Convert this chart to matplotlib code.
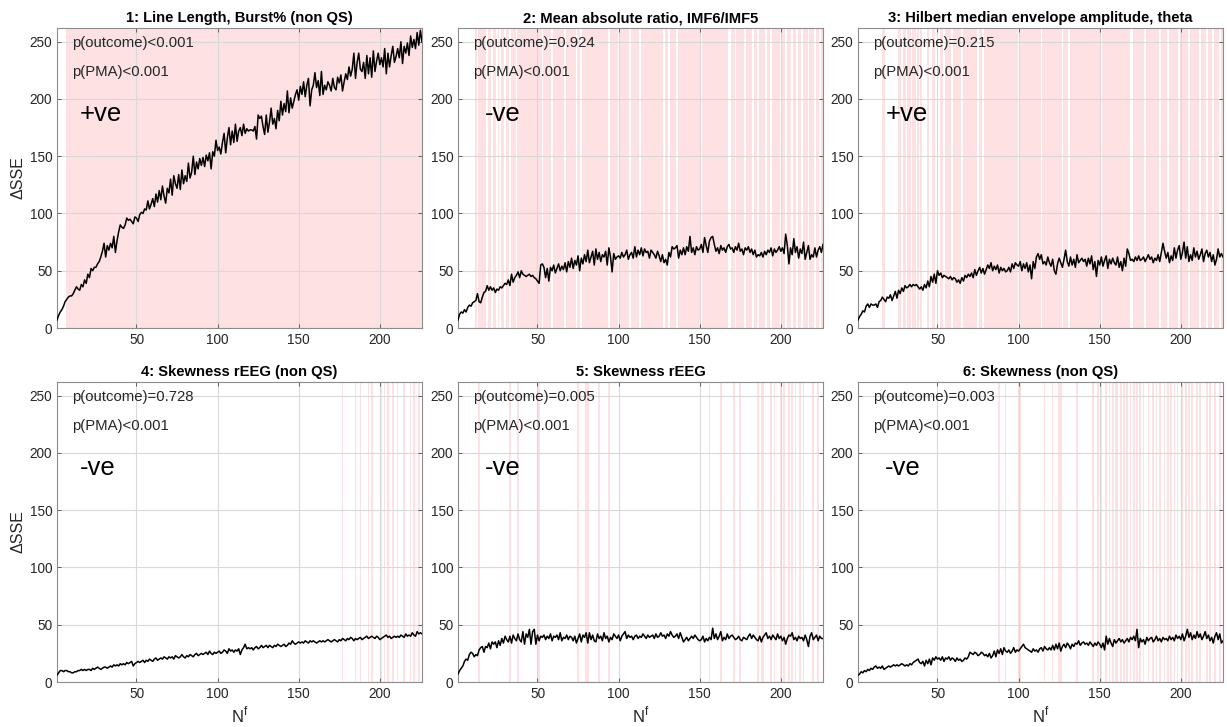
import matplotlib
matplotlib.use('Agg')
import matplotlib.pyplot as plt
import numpy as np

plt.rcParams['font.family'] = ['Liberation Sans', 'DejaVu Sans']

TITLES = [
    '1: Line Length, Burst% (non QS)',
    '2: Mean absolute ratio, IMF6/IMF5',
    '3: Hilbert median envelope amplitude, theta',
    '4: Skewness rEEG (non QS)',
    '5: Skewness rEEG',
    '6: Skewness (non QS)',
]
P_OUTCOME = ['p(outcome)<0.001', 'p(outcome)=0.924', 'p(outcome)=0.215',
             'p(outcome)=0.728', 'p(outcome)=0.005', 'p(outcome)=0.003']
P_PMA = ['p(PMA)<0.001'] * 6
SIGN = ['+ve', '-ve', '+ve', '-ve', '-ve', '-ve']

N_F = np.arange(1, 227)

dsse_1 = [
    7, 11, 14, 16, 19, 23, 25, 27, 28, 28,
    30, 33, 36, 34, 33, 38, 36, 42, 39, 47,
    44, 52, 50, 53, 53, 56, 58, 62, 67, 74,
    62, 72, 68, 74, 70, 80, 66, 76, 84, 90,
    88, 87, 90, 96, 94, 95, 93, 91, 97, 96,
    93, 99, 101, 100, 104, 103, 111, 104, 108, 113,
    106, 117, 110, 120, 112, 124, 115, 109, 122, 118,
    130, 116, 133, 126, 122, 134, 121, 138, 126, 133,
    128, 144, 131, 136, 150, 134, 145, 139, 148, 142,
    149, 141, 151, 146, 153, 139, 154, 150, 164, 155,
    158, 152, 162, 170, 153, 166, 175, 160, 172, 162,
    178, 163, 172, 175, 168, 178, 170, 174, 172, 173,
    173, 172, 176, 165, 186, 183, 185, 176, 169, 186,
    171, 180, 192, 178, 183, 174, 190, 181, 198, 186,
    196, 189, 207, 188, 201, 192, 198, 204, 208, 199,
    211, 204, 215, 202, 212, 218, 194, 208, 212, 223,
    210, 216, 203, 224, 204, 212, 208, 215, 212, 207,
    218, 210, 208, 219, 214, 221, 207, 215, 222, 217,
    228, 220, 226, 240, 218, 232, 240, 226, 224, 232,
    218, 238, 222, 236, 219, 242, 224, 233, 240, 230,
    236, 228, 244, 222, 240, 228, 238, 246, 232, 237,
    244, 236, 250, 231, 246, 240, 249, 238, 255, 245,
    252, 244, 258, 247, 260, 250,
]

dsse_2 = [
    7, 12, 14, 13, 16, 14, 18, 20, 19, 22,
    23, 24, 30, 23, 22, 27, 31, 32, 37, 33,
    36, 33, 35, 31, 34, 33, 36, 35, 37, 39,
    38, 42, 37, 47, 40, 44, 46, 49, 44, 50,
    47, 46, 45, 46, 47, 45, 46, 44, 43, 41,
    39, 55, 56, 53, 44, 52, 41, 53, 50, 55,
    48, 52, 56, 50, 54, 51, 57, 49, 58, 53,
    61, 52, 59, 55, 63, 50, 61, 56, 64, 58,
    68, 57, 62, 67, 55, 69, 60, 66, 58, 64,
    62, 67, 55, 70, 62, 49, 65, 60, 62, 63,
    61, 66, 62, 64, 68, 60, 64, 66, 61, 71,
    62, 68, 64, 70, 63, 69, 66, 67, 61, 68,
    66, 64, 61, 67, 63, 58, 64, 57, 60, 55,
    66, 62, 71, 69, 70, 72, 61, 68, 64, 70,
    64, 71, 67, 80, 66, 70, 64, 71, 68, 69,
    73, 66, 79, 72, 66, 76, 79, 80, 73, 67,
    70, 65, 72, 68, 70, 66, 71, 73, 69, 70,
    66, 71, 68, 74, 67, 69, 64, 70, 68, 71,
    66, 69, 64, 68, 62, 64, 63, 66, 62, 67,
    64, 68, 66, 70, 63, 69, 66, 68, 71, 67,
    70, 65, 82, 72, 56, 70, 64, 78, 66, 71,
    61, 69, 65, 75, 60, 66, 72, 60, 64, 62,
    70, 62, 68, 71, 66, 73,
]

dsse_3 = [
    7, 10, 12, 15, 14, 19, 21, 18, 21, 20,
    20, 21, 18, 23, 24, 27, 25, 23, 27, 26,
    29, 24, 28, 32, 26, 33, 30, 35, 32, 37,
    35, 36, 38, 36, 38, 37, 38, 36, 34, 36,
    33, 38, 35, 41, 36, 45, 40, 47, 39, 50,
    46, 48, 44, 46, 45, 44, 43, 45, 42, 44,
    43, 40, 42, 39, 44, 41, 46, 44, 47, 45,
    48, 44, 51, 46, 50, 53, 48, 52, 47, 51,
    55, 52, 57, 50, 54, 51, 55, 48, 53, 50,
    52, 49, 50, 53, 49, 56, 52, 57, 55, 54,
    58, 50, 56, 52, 57, 49, 55, 43, 58, 52,
    62, 65, 60, 64, 56, 58, 55, 62, 57, 54,
    60, 50, 47, 56, 61, 57, 53, 60, 68, 58,
    54, 62, 55, 60, 53, 64, 57, 59, 61, 58,
    60, 54, 61, 56, 63, 51, 58, 45, 59, 55,
    62, 54, 59, 63, 52, 60, 56, 61, 57, 55,
    62, 53, 58, 50, 61, 54, 69, 65, 59, 60,
    58, 62, 59, 63, 59, 60, 62, 58, 61, 64,
    60, 62, 57, 61, 59, 64, 58, 66, 74, 67,
    61, 66, 57, 63, 59, 70, 61, 68, 72, 60,
    66, 75, 61, 71, 58, 64, 59, 70, 62, 67,
    60, 64, 69, 58, 65, 68, 62, 66, 58, 64,
    55, 60, 69, 62, 65, 62,
]

dsse_4 = [
    6, 8, 10, 10, 9, 10, 10, 9, 9, 8,
    8, 9, 9, 10, 10, 11, 10, 11, 10, 11,
    11, 10, 12, 11, 12, 13, 12, 11, 12, 13,
    13, 12, 13, 14, 13, 15, 14, 15, 14, 16,
    15, 16, 15, 17, 16, 17, 18, 14, 16, 17,
    18, 17, 18, 19, 17, 19, 18, 20, 19, 18,
    20, 21, 19, 20, 21, 20, 22, 21, 20, 22,
    21, 22, 20, 23, 22, 21, 22, 24, 22, 21,
    23, 22, 24, 23, 22, 24, 25, 23, 24, 25,
    24, 25, 26, 24, 27, 25, 24, 26, 25, 26,
    27, 25, 26, 28, 27, 25, 29, 27, 28, 26,
    28, 27, 29, 24, 28, 30, 33, 29, 30, 29,
    30, 28, 30, 31, 29, 30, 32, 30, 31, 32,
    30, 32, 31, 30, 32, 31, 33, 32, 31, 32,
    33, 31, 32, 34, 33, 36, 34, 33, 34, 35,
    34, 35, 34, 36, 35, 34, 36, 35, 36, 35,
    34, 35, 36, 35, 36, 35, 36, 37, 36, 35,
    36, 37, 36, 35, 37, 36, 38, 37, 36, 38,
    37, 39, 38, 36, 38, 37, 38, 39, 37, 38,
    39, 40, 38, 39, 40, 39, 38, 40, 39, 37,
    38, 39, 40, 41, 39, 40, 38, 39, 40, 39,
    40, 39, 41, 40, 39, 42, 40, 41, 40, 43,
    41, 40, 44, 42, 43, 42,
]

dsse_5 = [
    7, 10, 12, 14, 18, 20, 19, 24, 26, 25,
    22, 24, 23, 28, 30, 31, 26, 31, 30, 34,
    29, 35, 33, 35, 30, 36, 32, 38, 34, 40,
    37, 35, 40, 34, 41, 38, 36, 42, 37, 35,
    44, 33, 42, 39, 46, 33, 44, 46, 33, 41,
    36, 40, 39, 41, 37, 40, 38, 42, 36, 40,
    39, 41, 37, 43, 36, 39, 38, 41, 37, 40,
    39, 36, 40, 34, 38, 42, 35, 41, 39, 43,
    34, 43, 37, 41, 36, 35, 42, 38, 40, 36,
    43, 38, 40, 35, 39, 37, 42, 40, 38, 41,
    36, 40, 42, 44, 38, 41, 39, 40, 37, 40,
    41, 38, 40, 39, 42, 40, 38, 41, 39, 40,
    41, 38, 42, 39, 40, 43, 40, 41, 38, 42,
    40, 44, 41, 39, 40, 42, 38, 43, 39, 35,
    37, 39, 36, 38, 40, 38, 41, 39, 37, 36,
    37, 40, 35, 38, 36, 39, 37, 47, 38, 42,
    37, 40, 44, 36, 39, 37, 42, 38, 40, 41,
    39, 37, 38, 40, 37, 36, 39, 38, 37, 40,
    42, 38, 41, 39, 37, 36, 40, 35, 39, 41,
    43, 38, 40, 37, 41, 39, 37, 42, 38, 40,
    36, 39, 33, 38, 41, 40, 43, 37, 39, 36,
    40, 38, 39, 36, 41, 37, 31, 40, 43, 37,
    39, 41, 36, 40, 38, 38,
]

dsse_6 = [
    6, 7, 9, 8, 10, 9, 11, 10, 12, 11,
    13, 14, 12, 13, 12, 14, 11, 12, 13, 14,
    13, 14, 15, 14, 15, 14, 15, 16, 15, 14,
    15, 14, 16, 15, 17, 18, 19, 20, 17, 16,
    18, 14, 19, 16, 20, 15, 21, 19, 22, 20,
    21, 19, 22, 18, 21, 20, 22, 19, 21, 20,
    18, 21, 19, 20, 18, 19, 21, 20, 22, 26,
    25, 24, 26, 25, 23, 24, 26, 25, 23, 24,
    22, 25, 21, 23, 27, 22, 28, 25, 29, 24,
    30, 27, 26, 28, 25, 27, 30, 26, 28, 27,
    29, 31, 33, 30, 29, 28, 27, 26, 29, 27,
    28, 26, 29, 30, 27, 31, 29, 28, 30, 28,
    32, 28, 33, 29, 34, 27, 31, 33, 30, 34,
    32, 29, 33, 31, 34, 33, 36, 32, 34, 35,
    33, 34, 32, 35, 33, 31, 34, 32, 35, 33,
    30, 34, 28, 40, 33, 38, 34, 31, 37, 34,
    36, 38, 35, 37, 34, 36, 38, 35, 39, 37,
    40, 36, 46, 30, 38, 35, 37, 33, 39, 36,
    38, 39, 35, 37, 40, 36, 38, 35, 39, 37,
    38, 36, 40, 37, 39, 36, 41, 38, 40, 37,
    42, 36, 40, 46, 39, 43, 37, 41, 38, 44,
    39, 42, 37, 40, 44, 38, 41, 36, 39, 34,
    40, 43, 37, 42, 34, 36,
]

# N^f values where the shaded (significant) bands are drawn
sig_1 = list(range(7, 227))
gaps_2 = [13, 19, 22, 25, 27, 30, 33, 37, 50, 53, 59, 67, 74, 77, 94, 100, 107,
          113, 128, 131, 136, 151, 168, 169, 172, 178, 183, 186, 191, 194, 200,
          203, 207, 210, 213, 217, 221, 224]
sig_2 = [n for n in range(12, 227) if n not in gaps_2]
gaps_3 = [54, 59, 65, 75, 78, 100, 114, 127, 131, 151, 169, 170, 178, 187, 192,
          199, 205, 212, 216, 220, 224]
sig_3 = [16, 17, 26, 27, 29, 30, 32, 33, 35, 36, 38, 40, 44, 47, 48] + \
        [n for n in range(52, 227) if n not in gaps_3]
sig_4 = [177, 185, 188, 193, 195, 201, 203, 205, 208, 211, 215, 219, 221, 224]
sig_5 = [14, 33, 38, 50, 51, 75, 80, 81, 88, 94, 156, 163, 171, 175, 186, 188,
         189, 194, 196, 200, 202, 205, 207, 209, 212, 214, 220, 223]
sig_6 = [88, 92, 100, 101, 116, 121, 125, 126, 136, 146, 149, 151, 154, 156, 158,
         160, 161, 163, 165, 167, 169, 171, 173, 175, 177, 180, 183, 185, 187,
         190, 192, 194, 196, 198, 201, 203, 205, 207, 210, 212, 216, 218, 221, 224]

SERIES = [dsse_1, dsse_2, dsse_3, dsse_4, dsse_5, dsse_6]
SIGNIF = [sig_1, sig_2, sig_3, sig_4, sig_5, sig_6]

BAND = '#fde1e3'
TXT = '#262626'


def runs(ns):
    ns = sorted(ns)
    out = []
    start = prev = ns[0]
    for n in ns[1:]:
        if n != prev + 1:
            out.append((start, prev))
            start = n
        prev = n
    out.append((start, prev))
    return out


fig = plt.figure(figsize=(12.27, 7.27), dpi=100)
lefts = [57 / 1227, 458 / 1227, 858 / 1227]
bottoms = [1 - 328 / 727, 1 - 682 / 727]
w, h = 365 / 1227, 300 / 727

for i in range(6):
    r, c = divmod(i, 3)
    ax = fig.add_axes([lefts[c], bottoms[r], w, h])
    for a, b in runs(SIGNIF[i]):
        ax.axvspan(a - 0.5, b + 0.5, color=BAND, lw=0, zorder=0.1)
    ax.plot(N_F, SERIES[i], color='black', lw=1.1, zorder=3)
    ax.set_xlim(1, 226)
    ax.set_ylim(0, 262)
    ax.set_xticks([50, 100, 150, 200])
    ax.set_yticks([0, 50, 100, 150, 200, 250])
    ax.grid(True, color='#d9d9d9', lw=0.8)
    ax.tick_params(direction='in', top=True, right=True, length=3,
                   labelsize=9.8, colors='#4d4d4d', labelcolor=TXT, width=0.6)
    for s in ax.spines.values():
        s.set_color('#8c8c8c')
        s.set_linewidth(0.8)
    ax.set_title(TITLES[i], fontsize=10.6, fontweight='bold', pad=4, color='black')
    ax.text(10, 249, P_OUTCOME[i], fontsize=10.7, va='center', color=TXT)
    ax.text(10, 223.5, P_PMA[i], fontsize=10.7, va='center', color=TXT)
    ax.text(0.062 if c == 0 else 0.075, 187, SIGN[i], fontsize=18.5, va='center',
            transform=ax.get_yaxis_transform(), color='black')
    if c == 0:
        ax.set_ylabel('\u0394SSE', fontsize=11.5, color=TXT, labelpad=3)
    if r == 1:
        ax.set_xlabel(r'N$^{\mathregular{f}}$', fontsize=12, color=TXT, labelpad=3)

fig.savefig('out.png', dpi=100)
